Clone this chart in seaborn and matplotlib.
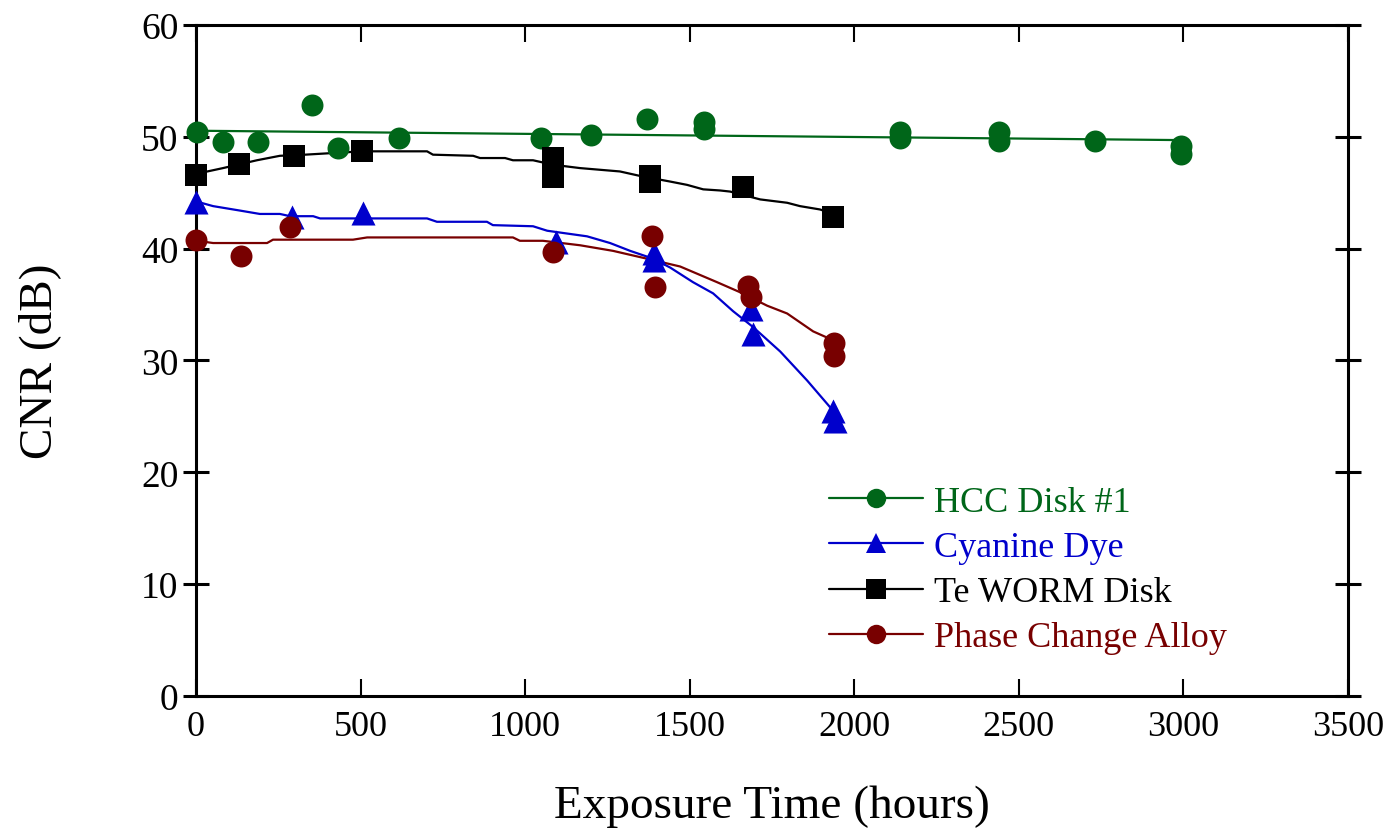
import numpy as np
import pandas as pd
import matplotlib
matplotlib.use('Agg')
import matplotlib.pyplot as plt
from matplotlib.lines import Line2D
import seaborn as sns

# ---- measured points ----
hcc_hours = [2, 82, 188, 352, 431, 617, 1048, 1200, 1370, 1543, 1543, 2139, 2139, 2440, 2440, 2732, 2993, 2993]
hcc_cnr = [50.4, 49.5, 49.5, 52.8, 49.0, 49.9, 49.9, 50.2, 51.6, 51.3, 50.7, 50.4, 49.9, 50.4, 49.6, 49.6, 49.2, 48.5]

cy_hours = [0, 292, 507, 1094, 1392, 1392, 1686, 1692, 1936, 1942]
cy_cnr = [44.2, 42.8, 43.2, 40.6, 39.6, 39.0, 34.6, 32.4, 25.5, 24.6]

te_hours = [0, 131, 298, 504, 1085, 1085, 1380, 1380, 1662, 1936]
te_cnr = [46.6, 47.6, 48.3, 48.7, 48.1, 46.4, 46.5, 46.0, 45.5, 42.8]

pc_hours = [0, 137, 286, 1085, 1386, 1395, 1677, 1686, 1939, 1939]
pc_cnr = [40.8, 39.3, 41.9, 39.7, 41.1, 36.6, 36.7, 35.7, 31.6, 30.4]

# ---- smoothed curves ----
te_fit_h = [3, 82, 185, 255, 331, 504, 702, 720, 842, 863, 939, 963, 1024, 1085, 1167, 1288,
            1349, 1440, 1492, 1541, 1592, 1623, 1714, 1796, 1835, 1896, 1936]
te_fit_y = [46.7, 47.2, 47.9, 48.3, 48.4, 48.7, 48.7, 48.4, 48.3, 48.1, 48.1, 47.9, 47.9, 47.5, 47.2, 46.9,
            46.5, 46.0, 45.7, 45.3, 45.2, 45.1, 44.4, 44.1, 43.8, 43.5, 43.1]

cy_fit_h = [3, 52, 134, 194, 255, 286, 356, 377, 702, 732, 884, 902, 1024, 1067, 1115, 1188, 1258,
            1319, 1389, 1441, 1510, 1571, 1632, 1692, 1775, 1857, 1927]
cy_fit_y = [44.2, 43.8, 43.4, 43.1, 43.1, 42.9, 42.9, 42.7, 42.7, 42.4, 42.4, 42.1, 42.0, 41.6, 41.4, 41.1, 40.5,
            39.8, 39.1, 38.3, 37.0, 36.0, 34.4, 33.0, 30.8, 28.2, 25.8]

pc_fit_h = [3, 52, 216, 234, 477, 520, 963, 984, 1054, 1167, 1267, 1370, 1471, 1583, 1653, 1735,
            1796, 1875, 1936]
pc_fit_y = [40.7, 40.5, 40.5, 40.8, 40.8, 41.0, 41.0, 40.7, 40.7, 40.3, 39.8, 39.1, 38.4, 37.0, 36.1, 34.9,
            34.2, 32.6, 31.8]

labels = ['HCC Disk #1', 'Cyanine Dye', 'Te WORM Disk', 'Phase Change Alloy']
colors = ['#006619', '#0000cc', '#000000', '#780000']
markers = ['o', '^', 's', 'o']

sns.set_style('ticks')
plt.rcParams['font.family'] = ['Liberation Serif', 'DejaVu Serif']
plt.rcParams['text.color'] = 'black'
plt.rcParams['axes.labelcolor'] = 'black'

fig = plt.figure(figsize=(13.86, 8.37), dpi=100)
ax = fig.add_axes([0.1414, 0.1673, 0.8312, 0.8017])

lw = 1.6
# HCC: linear fit
sns.regplot(x=hcc_hours, y=hcc_cnr, scatter=False, ci=None, ax=ax,
            line_kws=dict(color=colors[0], lw=lw))
sns.lineplot(x=cy_fit_h, y=cy_fit_y, color=colors[1], lw=lw, sort=False, estimator=None, ax=ax)
sns.lineplot(x=te_fit_h, y=te_fit_y, color=colors[2], lw=lw, sort=False, estimator=None, ax=ax)
sns.lineplot(x=pc_fit_h, y=pc_fit_y, color=colors[3], lw=lw, sort=False, estimator=None, ax=ax)

pts = [(hcc_hours, hcc_cnr, 250), (cy_hours, cy_cnr, 300), (te_hours, te_cnr, 270), (pc_hours, pc_cnr, 250)]
for (h, c, s), col, m in zip(pts, colors, markers):
    sns.scatterplot(x=h, y=c, color=col, marker=m, s=s, edgecolor=col, linewidth=0, ax=ax, zorder=5)
for coll in ax.collections:
    coll.set_clip_on(False)

ax.set_xlim(0, 3500)
ax.set_ylim(0, 60)
ax.set_xticks(np.arange(0, 3501, 500))
ax.set_yticks(np.arange(0, 61, 10))

for side in ['top', 'right', 'left', 'bottom']:
    ax.spines[side].set_visible(True)
    ax.spines[side].set_linewidth(2.2)
    ax.spines[side].set_color('black')

ax.tick_params(axis='x', which='major', direction='in', length=12, width=1.5, top=True, bottom=True,
               labelsize=26, pad=10, colors='black')
ax.tick_params(axis='y', which='major', direction='inout', length=19, width=2.2, left=True, right=True,
               labelsize=27, pad=3, colors='black')

ax.set_xlabel('Exposure Time (hours)', fontsize=34, labelpad=30, color='black')
ax.set_ylabel('CNR (dB)', fontsize=34, labelpad=58, color='black')

handles = [Line2D([0], [0], color=col, lw=lw, marker=m, markersize=14 if m != 's' else 15,
                  markeredgewidth=0) for col, m in zip(colors, markers)]
leg = ax.legend(handles, labels, loc='upper left', bbox_to_anchor=(0.537, 0.335), frameon=False,
                fontsize=26, handlelength=2.6, handletextpad=0.3, labelspacing=0.33, borderaxespad=0)
for txt, col in zip(leg.get_texts(), colors):
    txt.set_color(col)

fig.savefig('out.png', dpi=100)
